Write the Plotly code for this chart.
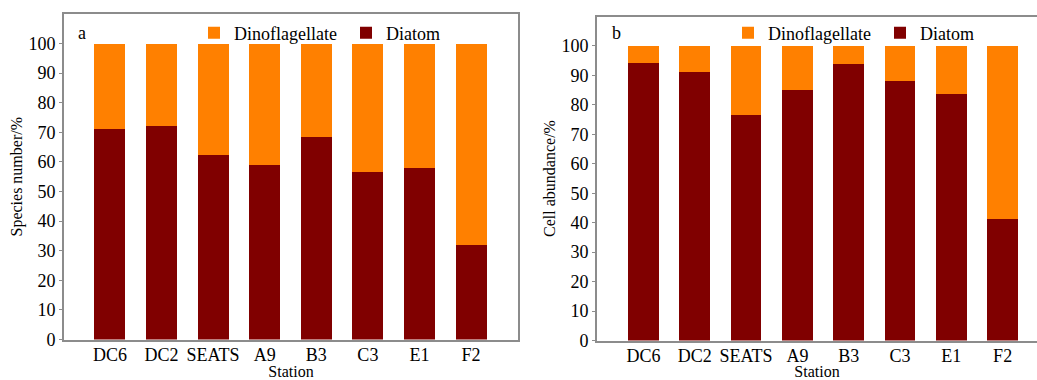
import plotly.graph_objects as go

# ---- data ----
stations = ["DC6", "DC2", "SEATS", "A9", "B3", "C3", "E1", "F2"]
species_diatom = [71.2, 72.2, 62.2, 59.0, 68.5, 56.5, 57.9, 31.9]
species_dino = [28.8, 27.8, 37.8, 41.0, 31.5, 43.5, 42.1, 68.1]
cell_diatom = [94.3, 91.3, 76.4, 85.2, 94.0, 88.0, 83.7, 41.2]
cell_dino = [5.7, 8.7, 23.6, 14.8, 6.0, 12.0, 16.3, 58.8]
y_ticks = [0, 10, 20, 30, 40, 50, 60, 70, 80, 90, 100]

DIATOM = "#800000"
DINO = "#FF8000"
FONT = "Liberation Serif, Times New Roman, serif"
LINE = "#8c8c8c"
W, H = 1037, 380

fig = go.Figure()
panels = [
    ("x", "y", "legend", species_diatom, species_dino),
    ("x2", "y2", "legend2", cell_diatom, cell_dino),
]
for xa, ya, lg, dia, dino in panels:
    fig.add_trace(go.Bar(x=stations, y=dia, name="Diatom", marker=dict(color=DIATOM, line=dict(width=0)),
                         xaxis=xa, yaxis=ya, legend=lg, legendrank=2))
    fig.add_trace(go.Bar(x=stations, y=dino, name="Dinoflagellate", marker=dict(color=DINO, line=dict(width=0)),
                         xaxis=xa, yaxis=ya, legend=lg, legendrank=1))

def xaxis(domain, rng, anchor):
    return dict(domain=domain, anchor=anchor, type="category", range=rng, automargin=False,
                showline=True, linecolor=LINE, linewidth=1.6, mirror=True,
                ticks="", showgrid=False, zeroline=False, ticklabelstandoff=-2,
                tickfont=dict(family=FONT, size=18, color="black"),
                title=dict(text="Station", font=dict(family=FONT, size=16, color="black"), standoff=13))

def yaxis(domain, anchor, title, mirror):
    return dict(domain=domain, anchor=anchor, range=[0, 110], tickvals=y_ticks, automargin=False,
                showline=True, linecolor=LINE, linewidth=1.6, mirror=mirror,
                ticks="outside", ticklen=3, tickcolor=LINE, tickwidth=1,
                showgrid=False, zeroline=False,
                tickfont=dict(family=FONT, size=18, color="black"),
                title=dict(text=title, font=dict(family=FONT, size=16, color="black"), standoff=2))

def legend(xpx):
    return dict(orientation="h", x=xpx / W, y=1 - 33 / H, xanchor="left", yanchor="middle",
                traceorder="normal",
                font=dict(family=FONT, size=18, color="black"), bgcolor="rgba(0,0,0,0)",
                entrywidth=107, entrywidthmode="pixels", itemwidth=30, borderwidth=0,
                itemclick=False, itemdoubleclick=False)

fig.update_layout(
    width=W, height=H, margin=dict(l=0, r=0, t=0, b=0, autoexpand=False),
    paper_bgcolor="white", plot_bgcolor="white",
    barmode="stack", bargap=0.4,
    xaxis=xaxis([64 / W, 518 / W], [-0.89, 7.91], "y"),
    xaxis2=xaxis([597 / W, 1.0], [-0.906, 7.67], "y2"),
    yaxis=yaxis([1 - 339.5 / H, 1 - 14 / H], "x", "Species number/%", True),
    yaxis2=yaxis([1 - 340.5 / H, 1 - 16.5 / H], "x2", "Cell abundance/%", False),
    legend=legend(194),
    legend2=legend(728),
    annotations=[
        dict(text="a", x=81.5 / W, y=1 - 33 / H, xref="paper", yref="paper", showarrow=False,
             font=dict(family=FONT, size=18, color="black"), xanchor="center", yanchor="middle"),
        dict(text="b", x=616 / W, y=1 - 33 / H, xref="paper", yref="paper", showarrow=False,
             font=dict(family=FONT, size=18, color="black"), xanchor="center", yanchor="middle"),
    ],
)

fig.write_html("out.html", config={"displayModeBar": False},
               post_script="document.body.style.margin='0';")
